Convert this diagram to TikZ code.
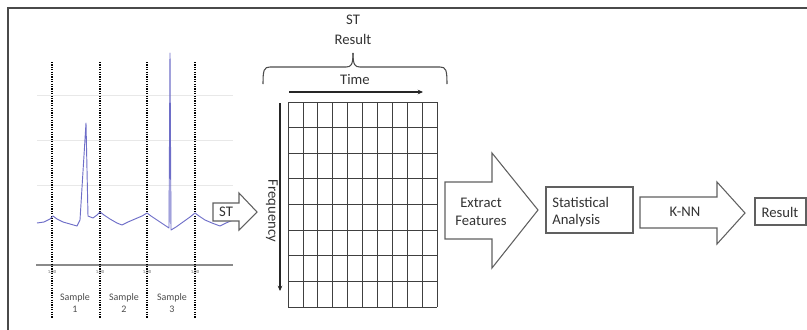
\documentclass[tikz,border=0pt]{standalone}
\usepackage{fontspec}
\setmainfont{Carlito}
\usetikzlibrary{arrows.meta}
\definecolor{framegray}{HTML}{4A4A4A}
\definecolor{sig}{HTML}{6E6EC8}
\definecolor{shapegray}{HTML}{606060}
\definecolor{faint}{HTML}{E8E8E8}
\definecolor{axisgray}{HTML}{8A8A8A}
\tikzset{
  blockarrow/.style={draw=shapegray, fill=white, line width=0.8pt, line join=miter},
  blockbox/.style={draw=shapegray, fill=white, line width=0.8pt},
  lbl/.style={inner sep=0pt, font=\fontsize{11}{13}\selectfont, text=black!80},
  smalllbl/.style={inner sep=0pt, font=\fontsize{7.5}{8.5}\selectfont, text=black!70, align=center},
  ticklbl/.style={inner sep=0pt, font=\fontsize{3.5}{4}\selectfont, text=black!60},
  sampleline/.style={black, line width=0.9pt, dash pattern=on 0.9pt off 0.9pt},
  gridline/.style={draw=black!75, line width=0.6pt},
}
\begin{document}
\begin{tikzpicture}[x=0.75pt,y=-0.75pt]
\useasboundingbox (0,0) rectangle (807,329);
% outer frame
\draw[framegray, line width=1.6pt] (8,340) -- (8,8) -- (820,8);

% ---------- signal panel ----------
\foreach \yy in {95,140,185} \draw[faint, line width=0.6pt] (37,\yy) -- (233,\yy);
\draw[axisgray, line width=0.8pt] (36,265) -- (233,265);
\foreach \xx/\nm in {52/a,100/b,147/c,195/d} {
  \draw[sampleline] (\xx,62) -- (\xx,318);
  \node[ticklbl] (tick\nm) at (\xx,272) {1.00};
}
\draw[sig, line width=0.7pt, line join=round]
  (37,223) -- (44,222) -- (50,219) -- (53,216) -- (57,219) -- (63,222) -- (70,224) -- (77,226) -- (80,220)
  -- (86,123) -- (88,216) -- (93,218) -- (97,215) -- (100,212) -- (104,215) -- (110,219) -- (117,223)
  -- (122,225) -- (128,222) -- (135,219) -- (142,216) -- (147,213) -- (151,216) -- (157,220) -- (163,224)
  -- (169,228) -- (170,53) -- (171,230) -- (176,227) -- (183,222) -- (190,217) -- (195,213) -- (199,216)
  -- (205,220) -- (212,223) -- (220,226) -- (226,223) -- (233,220);
\node[smalllbl] (s1) at (75,303) {Sample\\1};
\node[smalllbl] (s2) at (124,303) {Sample\\2};
\node[smalllbl] (s3) at (172,303) {Sample\\3};

% ---------- ST arrow ----------
\draw[blockarrow] (213,203) -- (239,203) -- (239,193) -- (257,212) -- (239,230) -- (239,221) -- (213,221) -- cycle;
\node[lbl] (st) at (226,212) {ST};

% ---------- ST result grid ----------
\node[lbl] (stres1) at (353,20) {ST};
\node[lbl] (stres2) at (353,39) {Result};
\draw[black!70, line width=0.8pt]
  (263,84) .. controls (263,70) and (264,67) .. (270,67) -- (346,67)
  .. controls (351,67) and (353,65) .. (353,53);
\draw[black!70, line width=0.8pt]
  (447,84) .. controls (447,70) and (446,67) .. (440,67) -- (360,67)
  .. controls (355,67) and (353,65) .. (353,53);
\node[lbl] (time) at (355,80) {Time};
\coordinate (t0) at (289,92);
\coordinate (t1) at (423,92);
\draw[black!85, line width=0.8pt, -{Stealth[length=4pt,width=3.5pt]}] (t0) -- (t1);
\coordinate (f0) at (280,103);
\coordinate (f1) at (280,291);
\draw[black!85, line width=0.8pt, -{Stealth[length=4pt,width=3.5pt]}] (f0) -- (f1);
\node[lbl, rotate=-90] (freq) at (272,211) {Frequency};
\foreach \i in {0,...,10} \draw[gridline] ({288+\i*14.9},102) -- ({288+\i*14.9},307);
\foreach \j in {0,...,8} \draw[gridline] (288,{102+\j*25.625}) -- (437,{102+\j*25.625});

% ---------- Extract Features ----------
\draw[blockarrow] (445,182) -- (492,182) -- (492,153) -- (538,210) -- (492,268) -- (492,239) -- (445,239) -- cycle;
\node[lbl, align=center] (extract) at (481,212) {Extract\\Features};

% ---------- Statistical Analysis ----------
\draw[blockbox] (546,187) rectangle (633,233);
\node[lbl, align=left, anchor=west] (stat) at (552,212) {Statistical\\Analysis};

% ---------- K-NN ----------
\draw[blockarrow] (640,197) -- (717,197) -- (717,182) -- (745,213) -- (717,244) -- (717,228) -- (640,228) -- cycle;
\node[lbl] (knn) at (685,212) {K-NN};

% ---------- Result ----------
\draw[blockbox] (755,198) rectangle (806,225);
\node[lbl] (result) at (780,212) {Result};
\end{tikzpicture}
\end{document}
